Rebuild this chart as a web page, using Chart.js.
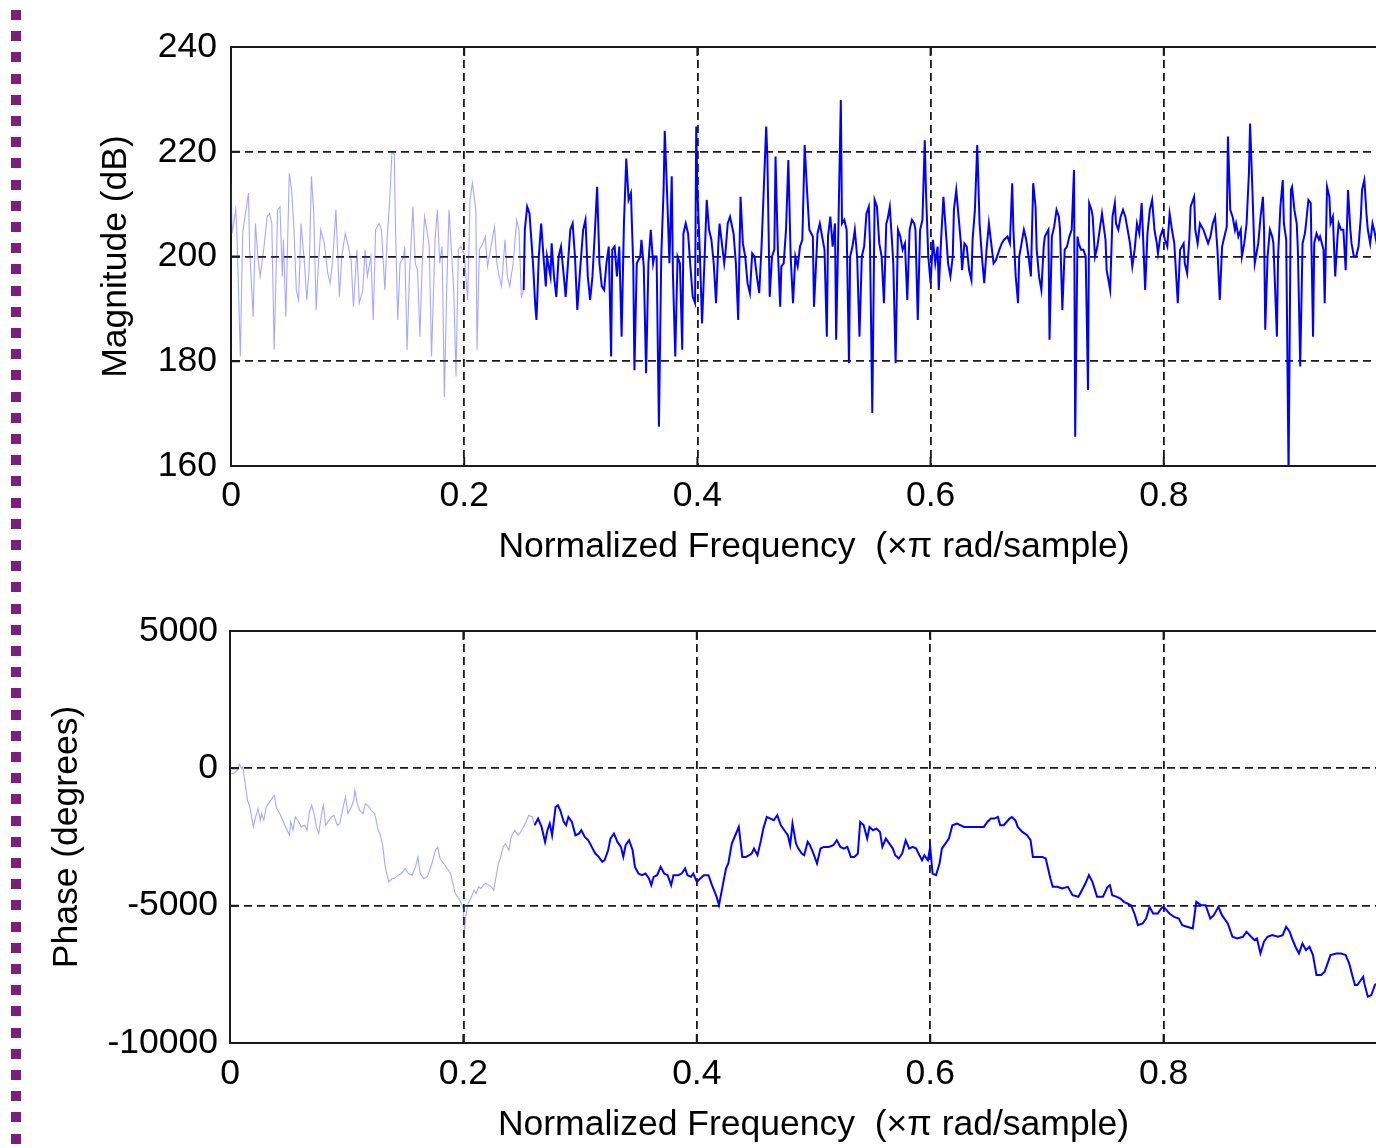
<!DOCTYPE html>
<html>
<head>
<meta charset="utf-8">
<script src="https://cdn.jsdelivr.net/npm/chart.js@4/dist/chart.umd.min.js"></script>
<style>
html, body { margin:0; padding:0; width:1376px; height:1148px; overflow:hidden; background:#fff; }
#dots { position:absolute; left:11px; top:10px; width:10px; height:1138px;
  background:repeating-linear-gradient(to bottom, #7b1f7e 0 10px, transparent 10px 21.2px); }
#magchart { position:absolute; left:0; top:0; }
#phasechart { position:absolute; left:0; top:580px; }
</style>
</head>
<body>
<div id="dots"></div>
<canvas id="magchart" width="1500" height="580"></canvas>
<canvas id="phasechart" width="1500" height="568"></canvas>
<script>
// tick labels
const freqTicks = [0, 0.2, 0.4, 0.6, 0.8, 1]
const magTicks = [160, 180, 200, 220, 240]
const phaseTicks = [-10000, -5000, 0, 5000]

// magnitude, light part (0 .. 0.25)
const magFreqLight = [0.000,0.001,0.004,0.005,0.008,0.010,0.012,0.015,0.016,0.019,
  0.021,0.023,0.025,0.028,0.031,0.033,0.035,0.037,0.040,0.042,
  0.044,0.045,0.047,0.050,0.052,0.054,0.056,0.058,0.060,0.063,
  0.065,0.067,0.069,0.071,0.073,0.075,0.077,0.080,0.083,0.085,
  0.087,0.090,0.093,0.095,0.098,0.100,0.103,0.105,0.108,0.110,
  0.113,0.115,0.117,0.120,0.122,0.124,0.127,0.129,0.132,0.134,
  0.136,0.138,0.140,0.141,0.143,0.145,0.148,0.149,0.151,0.153,
  0.156,0.158,0.160,0.162,0.164,0.166,0.168,0.170,0.172,0.175,
  0.177,0.179,0.181,0.183,0.185,0.187,0.189,0.191,0.193,0.195,
  0.197,0.200,0.203,0.205,0.207,0.210,0.211,0.213,0.216,0.218,
  0.220,0.223,0.226,0.228,0.230,0.232,0.235,0.237,0.239,0.242,
  0.245,0.247,0.249,0.251]
const magLight = [214.0,204.4,208.9,205.1,180.9,204.4,207.6,212.1,201.3,188.5,
  206.3,200.0,196.2,201.3,207.6,208.2,206.3,182.2,208.9,209.5,
  196.2,203.2,188.5,215.9,212.7,205.1,193.6,191.7,206.3,198.7,
  191.7,197.4,215.3,208.2,189.8,198.7,205.1,202.5,196.8,194.9,
  198.7,208.9,192.3,200.0,204.4,202.5,199.3,190.4,201.3,191.1,
  193.6,201.3,196.2,200.0,187.9,205.1,206.3,205.1,193.6,203.8,
  210.2,219.7,219.7,206.3,187.9,198.7,200.0,201.9,182.2,196.2,
  209.5,198.7,197.4,184.7,198.7,207.6,205.1,201.9,180.9,203.2,
  208.9,198.7,201.9,173.2,193.6,208.9,201.3,193.6,177.1,201.3,
  201.9,200.6,191.7,210.8,214.0,208.9,182.2,201.3,202.5,203.8,
  198.1,201.9,205.7,198.7,196.2,194.3,203.2,196.2,194.3,198.7,
  207.0,205.1,192.3,193.6]

// magnitude, dark part (0.25 .. 1)
const magFreqDark = [0.251,0.252,0.254,0.256,0.259,0.261,0.262,0.264,0.266,0.268,
  0.270,0.271,0.274,0.275,0.277,0.279,0.281,0.283,0.286,0.287,
  0.289,0.291,0.293,0.295,0.297,0.299,0.302,0.304,0.306,0.308,
  0.310,0.312,0.314,0.316,0.318,0.320,0.322,0.324,0.326,0.327,
  0.329,0.331,0.333,0.335,0.337,0.339,0.341,0.343,0.345,0.346,
  0.348,0.351,0.352,0.354,0.356,0.358,0.360,0.362,0.363,0.365,
  0.367,0.369,0.371,0.372,0.374,0.376,0.378,0.379,0.381,0.383,
  0.385,0.387,0.388,0.390,0.392,0.394,0.396,0.398,0.399,0.400,
  0.402,0.404,0.406,0.408,0.410,0.412,0.414,0.416,0.418,0.419,
  0.421,0.423,0.424,0.426,0.428,0.431,0.433,0.435,0.437,0.439,
  0.441,0.443,0.445,0.447,0.449,0.451,0.453,0.455,0.457,0.459,
  0.460,0.462,0.464,0.466,0.467,0.469,0.471,0.472,0.474,0.476,
  0.478,0.480,0.482,0.484,0.486,0.488,0.490,0.492,0.494,0.496,
  0.499,0.500,0.503,0.505,
  0.507,0.509,0.511,0.512,0.514,0.516,0.518,0.519,0.521,0.523,
  0.524,0.526,0.528,0.530,0.531,0.533,0.535,0.537,0.539,0.541,
  0.543,0.545,0.547,0.548,0.550,0.552,0.554,0.556,0.558,0.560,
  0.562,0.563,0.565,0.567,0.568,0.570,0.572,0.574,0.576,0.578,
  0.580,0.582,0.584,0.586,0.587,0.589,0.591,0.593,0.595,0.596,
  0.598,0.600,0.602,0.604,0.606,0.607,0.609,0.611,0.613,0.615,
  0.617,0.619,0.620,0.622,0.624,0.626,0.627,0.629,0.631,0.633,
  0.635,0.636,0.638,0.640,0.642,0.644,0.646,0.648,0.650,0.652,
  0.654,0.656,0.659,0.661,0.663,0.666,0.668,0.670,0.671,0.673,
  0.675,0.676,0.678,0.680,0.682,0.684,0.686,0.688,0.690,0.691,
  0.693,0.695,0.697,0.698,0.701,0.702,0.704,0.706,0.708,0.710,
  0.711,0.713,0.715,0.717,0.719,0.721,0.723,0.724,0.726,0.727,
  0.729,0.731,0.733,0.735,0.736,0.738,0.739,0.741,0.743,0.745,
  0.747,0.750,0.751,0.754,
  0.756,0.758,0.759,0.761,0.763,0.765,0.767,0.769,0.771,0.773,
  0.775,0.777,0.779,0.781,0.782,0.784,0.786,0.788,0.790,0.792,
  0.794,0.795,0.797,0.799,0.801,0.803,0.805,0.807,0.809,0.810,
  0.812,0.814,0.817,0.818,0.820,0.822,0.823,0.826,0.827,0.829,
  0.831,0.834,0.836,0.838,0.840,0.842,0.844,0.846,0.848,0.850,
  0.852,0.854,0.855,0.857,0.859,0.861,0.862,0.864,0.866,0.867,
  0.869,0.871,0.873,0.874,0.876,0.878,0.879,0.881,0.883,0.885,
  0.886,0.887,0.889,0.891,0.893,0.894,0.897,0.898,0.900,0.902,
  0.903,0.905,0.907,0.909,0.910,0.912,0.914,0.915,0.917,0.919,
  0.921,0.922,0.924,0.926,0.928,0.929,0.931,0.933,0.934,0.937,
  0.938,0.940,0.942,0.943,0.945,0.947,0.949,0.950,0.952,0.954,
  0.956,0.958,0.960,0.961,0.963,0.965,0.967,0.969,0.970,0.972,
  0.974,0.975,0.977,0.979,0.981,0.982,0.986,0.990,0.995,1.000]
const magDark = [193.6,205.1,209.5,208.2,198.7,190.4,187.9,200.0,206.3,200.0,
  194.3,200.0,196.2,202.5,196.2,192.3,200.0,201.9,194.9,192.3,
  198.7,205.1,206.3,200.0,189.8,196.2,205.1,207.0,196.2,191.7,
  196.2,204.4,213.3,198.7,194.3,193.6,198.7,201.9,180.9,201.3,
  201.9,196.2,201.9,184.7,206.3,218.7,210.8,212.1,198.1,178.3,
  198.7,200.0,203.2,198.1,177.7,198.7,205.1,198.7,200.0,200.0,
  167.5,200.0,212.7,224.0,212.1,198.7,215.3,196.8,180.9,200.0,
  198.7,182.2,204.4,206.3,204.4,198.1,192.3,191.1,224.8,212.7,
  201.3,187.2,198.7,210.8,205.1,203.2,198.7,191.1,202.5,206.3,
  202.5,198.7,200.6,206.3,207.6,204.4,198.7,187.9,211.4,202.5,
  200.0,194.9,193.0,200.6,200.0,196.2,193.0,201.9,213.3,224.8,
  219.1,192.3,200.0,201.3,219.1,201.3,190.4,198.1,198.7,205.1,
  218.4,200.0,191.1,200.0,198.1,201.9,203.2,221.3,212.7,205.1,
  203.8,190.4,204.4,206.3,
  203.8,201.3,184.7,203.8,207.6,201.9,206.3,184.1,206.3,229.9,
  206.3,207.0,205.1,179.6,200.0,201.9,205.1,200.0,184.7,200.0,
  201.9,208.2,209.5,202.5,170.1,210.8,209.5,202.5,200.0,191.1,
  206.3,207.0,209.5,202.5,198.7,179.6,205.1,203.8,201.3,202.5,
  191.7,205.1,207.0,206.3,205.1,187.9,205.1,207.0,222.2,212.7,
  200.0,194.9,203.2,198.7,201.9,193.6,203.2,211.4,205.1,198.7,
  196.2,200.0,208.9,212.7,207.6,202.5,197.4,202.5,201.9,197.4,
  195.5,203.2,208.9,221.3,206.3,200.0,194.9,201.3,206.3,202.5,
  198.7,199.3,201.3,202.5,203.2,203.8,202.5,214.0,205.1,196.2,
  191.1,200.0,202.5,205.1,203.2,200.0,196.2,214.0,209.5,201.3,
  196.2,193.6,201.9,203.8,205.1,184.1,203.8,205.7,208.9,207.6,
  205.1,189.8,201.3,201.9,203.8,205.1,216.5,165.6,203.8,202.5,
  201.3,201.3,200.0,174.5,210.2,208.9,207.6,200.0,201.9,205.1,
  208.2,203.2,197.4,193.6,
  207.6,210.2,206.3,205.1,207.6,208.9,207.6,205.1,202.5,198.1,
  201.3,206.3,204.4,210.2,205.1,193.6,204.4,208.9,210.8,205.1,
  202.5,200.6,203.8,205.1,203.2,201.9,208.2,205.1,202.5,198.7,
  191.1,201.3,202.5,198.7,196.8,203.8,209.5,211.4,205.1,202.5,
  206.3,205.1,203.8,202.5,203.8,206.3,207.6,201.3,191.7,201.9,
  203.8,205.7,222.9,208.9,207.6,205.1,206.3,203.8,205.1,200.0,
  202.5,206.3,215.9,225.4,212.7,198.7,200.0,202.5,207.6,211.4,
  205.1,186.0,200.0,205.1,203.8,202.5,184.7,200.0,209.5,214.6,
  206.3,203.2,158.5,212.7,213.3,208.9,206.3,201.3,179.0,202.5,
  204.4,206.3,210.8,210.2,184.7,202.5,204.4,203.2,203.8,201.3,
  191.1,213.3,211.4,206.3,207.6,196.2,203.8,206.3,205.1,205.1,
  197.4,212.7,205.1,202.5,200.0,200.0,201.9,207.6,212.7,214.6,
  207.6,205.1,202.5,206.3,204.4,203.2,208.0,199.0,206.0,203.0]

// phase, light part
const phaseFreqLight = [0.000,0.003,0.006,0.008,0.010,0.011,0.013,0.015,0.017,0.020,
  0.022,0.024,0.026,0.027,0.029,0.031,0.033,0.036,0.038,0.040,
  0.042,0.044,0.047,0.051,0.052,0.054,0.056,0.059,0.061,0.064,
  0.066,0.068,0.070,0.072,0.074,0.076,0.079,0.080,0.082,0.084,
  0.087,0.089,0.092,0.094,0.097,0.099,0.101,0.104,0.106,0.107,
  0.109,0.111,0.114,0.116,0.119,0.121,0.124,0.127,0.129,0.131,
  0.133,0.136,0.139,0.141,0.144,0.147,0.150,0.153,0.156,0.159,
  0.161,0.163,0.166,0.169,0.171,0.173,0.176,0.178,0.180,0.183,
  0.186,0.189,0.191,0.193,0.196,0.199,0.200,0.201,0.202,0.204,
  0.207,0.209,0.211,0.213,0.215,0.217,0.219,0.222,0.224,0.226,
  0.227,0.230,0.232,0.234,0.236,0.239,0.241,0.244,0.247,0.250,
  0.253,0.256,0.259,0.261]
const phaseLight = [-194,-194,-73,145,-12,49,-558,-1163,-1406,-2133,
  -1770,-1467,-1891,-1648,-1891,-1406,-1285,-1103,-982,-1467,
  -1588,-1770,-2073,-2436,-1951,-2254,-1770,-1951,-2133,-2073,
  -2254,-1588,-1345,-1648,-2133,-2376,-1527,-1345,-2073,-1951,
  -1770,-1709,-2073,-2012,-1406,-1042,-1648,-1406,-1163,-800,
  -1285,-1527,-1648,-1285,-1406,-1527,-1648,-2254,-2436,-2860,
  -3588,-4133,-4012,-4012,-3891,-3830,-3648,-3830,-3891,-3588,
  -3224,-3830,-4012,-3951,-3709,-3466,-2982,-2860,-3285,-3466,
  -3648,-3830,-4194,-4557,-4739,-4981,-5163,-5890,-5406,-4921,
  -4678,-4436,-4557,-4315,-4375,-4254,-4194,-4254,-4315,-4436,
  -4194,-3466,-3224,-2860,-2739,-2982,-2497,-2254,-2436,-2254,
  -2012,-1709,-1770,-2073]

// phase, dark part
const phaseFreqDark = [0.261,0.264,0.267,0.270,0.272,0.274,0.276,0.279,0.281,0.283,
  0.286,0.288,0.290,0.293,0.296,0.299,0.301,0.304,0.307,0.310,
  0.313,0.316,0.319,0.321,0.324,
  0.326,0.329,0.332,0.335,0.337,0.339,0.342,0.345,0.347,0.350,
  0.353,0.356,0.359,0.361,0.363,0.366,0.369,0.372,0.375,0.378,
  0.380,0.384,0.387,0.390,0.392,0.395,0.397,0.400,0.403,0.406,
  0.410,0.413,0.417,0.419,0.422,0.425,0.427,0.430,0.433,0.436,
  0.439,0.442,0.445,0.447,0.449,0.452,0.455,0.457,0.460,0.463,
  0.466,0.469,0.472,0.475,0.478,0.480,0.482,0.485,0.487,0.490,
  0.492,0.495,0.497,0.500,0.503,0.506,0.509,0.513,0.517,0.520,
  0.523,0.526,0.529,0.532,0.535,0.538,0.540,0.543,0.546,0.548,
  0.551,0.554,0.557,0.559,0.562,0.565,0.568,0.570,0.573,0.576,
  0.579,0.582,0.585,0.588,0.590,0.593,0.595,0.598,0.600,0.602,
  0.605,0.608,0.610,0.613,0.616,0.619,0.623,0.629,0.638,0.646,
  0.649,0.652,0.655,0.658,0.660,
  0.663,0.668,0.670,0.673,0.675,0.679,0.683,0.686,0.688,0.692,
  0.696,0.699,0.701,0.703,0.705,0.709,0.713,0.718,0.722,0.727,
  0.730,0.733,0.736,0.739,0.743,0.748,0.752,0.754,0.756,0.760,
  0.763,0.766,0.769,0.772,0.775,0.778,0.782,0.785,0.788,0.791,
  0.795,0.798,0.800,0.805,0.809,0.813,0.816,0.820,0.825,0.828,
  0.832,0.836,0.840,0.843,0.847,0.850,0.855,0.859,0.863,0.868,
  0.871,0.875,0.878,0.880,0.883,0.886,0.889,0.893,0.898,0.902,
  0.905,0.908,0.910,0.913,0.916,0.919,0.922,0.925,0.928,0.931,
  0.935,0.938,0.940,0.943,0.948,0.952,0.956,0.959,0.962,0.964,
  0.966,0.968,0.971,0.972,0.975,0.978,0.981,0.983,0.988,0.994,
  1.000]
const phaseDark = [-2073,-1830,-2133,-2679,-2254,-2012,-2436,-1406,-1345,-1527,
  -1951,-2073,-1770,-1951,-2436,-2376,-2254,-2497,-2618,-2860,
  -3103,-3224,-3406,-3345,-2982,
  -2557,-2376,-2679,-2860,-3224,-2800,-2618,-2982,-3588,-3830,
  -3891,-3830,-4012,-4254,-3951,-3891,-3588,-3830,-3891,-4254,
  -3891,-3891,-3830,-3648,-3891,-3951,-3830,-4133,-4012,-3891,
  -3891,-4254,-4678,-4981,-4315,-3648,-3466,-2739,-2436,-2133,
  -3224,-3224,-3163,-3103,-2921,-3163,-2618,-2194,-1770,-1830,
  -1891,-1709,-2073,-2254,-2436,-2800,-2012,-2739,-2921,-3103,
  -3163,-2679,-2800,-3103,-3466,-2921,-2860,-2860,-2800,-2618,
  -2860,-2921,-2860,-3224,-3224,-3103,-1951,-2073,-2557,-2133,
  -2254,-2194,-2315,-2860,-2557,-2739,-2921,-3163,-3285,-3103,
  -2618,-2921,-2860,-2921,-3103,-3345,-3163,-3345,-2860,-3830,
  -3891,-3466,-2921,-2739,-2557,-2073,-2012,-2133,-2133,-2133,
  -1951,-1830,-1830,-1770,-2073,
  -2073,-1830,-1770,-1891,-2133,-2315,-2436,-2618,-3224,-3224,
  -3224,-3285,-3648,-4012,-4315,-4315,-4375,-4315,-4618,-4678,
  -4436,-4194,-3891,-4133,-4678,-4678,-4315,-4254,-4618,-4678,
  -4739,-4860,-4921,-4981,-5284,-5709,-5648,-5466,-5042,-5284,
  -5284,-5102,-5042,-5284,-5406,-5466,-5709,-5769,-5830,-4860,
  -4981,-4981,-5466,-5345,-5042,-5345,-5648,-6133,-6193,-6133,
  -5951,-6133,-6254,-6193,-6739,-6315,-6133,-6072,-6133,-6072,
  -5769,-5951,-6193,-6496,-6739,-6375,-6618,-6496,-6799,-7527,
  -7527,-7405,-7163,-6799,-6739,-6739,-6799,-7103,-7587,-7890,
  -7890,-7769,-7587,-7830,-8314,-8254,-7890,-7830,-8100,-8400,
  -8300]

const FONT = {family: "'Liberation Sans', Arial, sans-serif", size: 35.5}
const LIGHT = 'rgba(60, 60, 255, 0.45)'
const DARK = '#0000ff'
const INK = '#1a1a1a'

function pts(xs, ys){
    return xs.map((x, i) => ({x: x, y: ys[i]}))
}

// solid box + short inward ticks, like matlab's axes
const boxPlugin = {
    id: 'box',
    afterDatasetsDraw(chart){
        let a = chart.chartArea
        let ctx = chart.ctx
        let xs = chart.scales.x
        let ys = chart.scales.y
        ctx.save()
        ctx.strokeStyle = INK
        ctx.lineWidth = 2
        ctx.beginPath()
        ctx.moveTo(a.left, a.top)
        ctx.lineTo(a.right, a.top)
        ctx.lineTo(a.right, a.bottom)
        xs.ticks.forEach(t => {
            let px = xs.getPixelForValue(t.value)
            ctx.moveTo(px, a.bottom); ctx.lineTo(px, a.bottom - 9)
            ctx.moveTo(px, a.top); ctx.lineTo(px, a.top + 9)
        })
        ys.ticks.forEach(t => {
            let py = ys.getPixelForValue(t.value)
            ctx.moveTo(a.left, py); ctx.lineTo(a.left + 9, py)
        })
        ctx.stroke()
        ctx.restore()
    }
}

function make_chart(id, cfg){
    let edgeless = (ctx) => {
        let n = ctx.scale.ticks.length
        return (ctx.index === 0 || ctx.index === n - 1) ? 'rgba(0,0,0,0)' : INK
    }
    return new Chart(document.querySelector(id), {
        type: 'line',
        data: {
            datasets: [
                {data: pts(cfg.xl, cfg.yl), borderColor: LIGHT, borderWidth: 1.1, pointRadius: 0, tension: 0},
                {data: pts(cfg.xd, cfg.yd), borderColor: DARK, borderWidth: 2, pointRadius: 0, tension: 0}
            ]
        },
        options: {
            responsive: false,
            animation: false,
            devicePixelRatio: 1,
            events: [],
            layout: {padding: {left: 0, top: cfg.top, right: 103, bottom: 0}},
            plugins: {legend: {display: false}, tooltip: {enabled: false}},
            scales: {
                x: {
                    type: 'linear', min: 0, max: 1,
                    afterBuildTicks: s => { s.ticks = freqTicks.map(v => ({value: v})) },
                    afterFit: s => { s.height = cfg.xh },
                    ticks: {font: FONT, color: '#000', padding: cfg.xpad, maxRotation: 0, autoSkip: false,
                        callback: v => String(v)},
                    grid: {color: edgeless, lineWidth: 1.8, drawTicks: false},
                    border: {color: INK, width: 2, dash: [8, 5]},
                    title: {display: true, text: 'Normalized Frequency  (\u00d7\u03c0 rad/sample)',
                        font: FONT, color: '#000', padding: {top: 0, bottom: cfg.tpad}}
                },
                y: {
                    type: 'linear', min: cfg.ymin, max: cfg.ymax,
                    afterBuildTicks: s => { s.ticks = cfg.yticks.map(v => ({value: v})) },
                    afterFit: s => { s.width = cfg.yw },
                    ticks: {font: FONT, color: '#000', padding: cfg.ypad, autoSkip: false,
                        callback: v => String(v)},
                    grid: {color: edgeless, lineWidth: 1.8, drawTicks: false},
                    border: {color: INK, width: 2, dash: [8, 5]},
                    title: {display: true, text: cfg.ytitle, font: FONT, color: '#000',
                        padding: {top: cfg.ytpad, bottom: 0}}
                }
            }
        },
        plugins: [boxPlugin]
    })
}

make_chart('#magchart', {
    xl: magFreqLight, yl: magLight, xd: magFreqDark, yd: magDark,
    top: 47, xh: 114, xpad: 9, tpad: 11,
    ymin: 160, ymax: 240, yticks: magTicks, yw: 231, ypad: 14, ytpad: 95,
    ytitle: 'Magnitude (dB)'
})

make_chart('#phasechart', {
    xl: phaseFreqLight, yl: phaseLight, xd: phaseFreqDark, yd: phaseDark,
    top: 51, xh: 105, xpad: 10, tpad: 1,
    ymin: -10000, ymax: 5000, yticks: phaseTicks, yw: 230, ypad: 12, ytpad: 46,
    ytitle: 'Phase (degrees)'
})
</script>
</body>
</html>
